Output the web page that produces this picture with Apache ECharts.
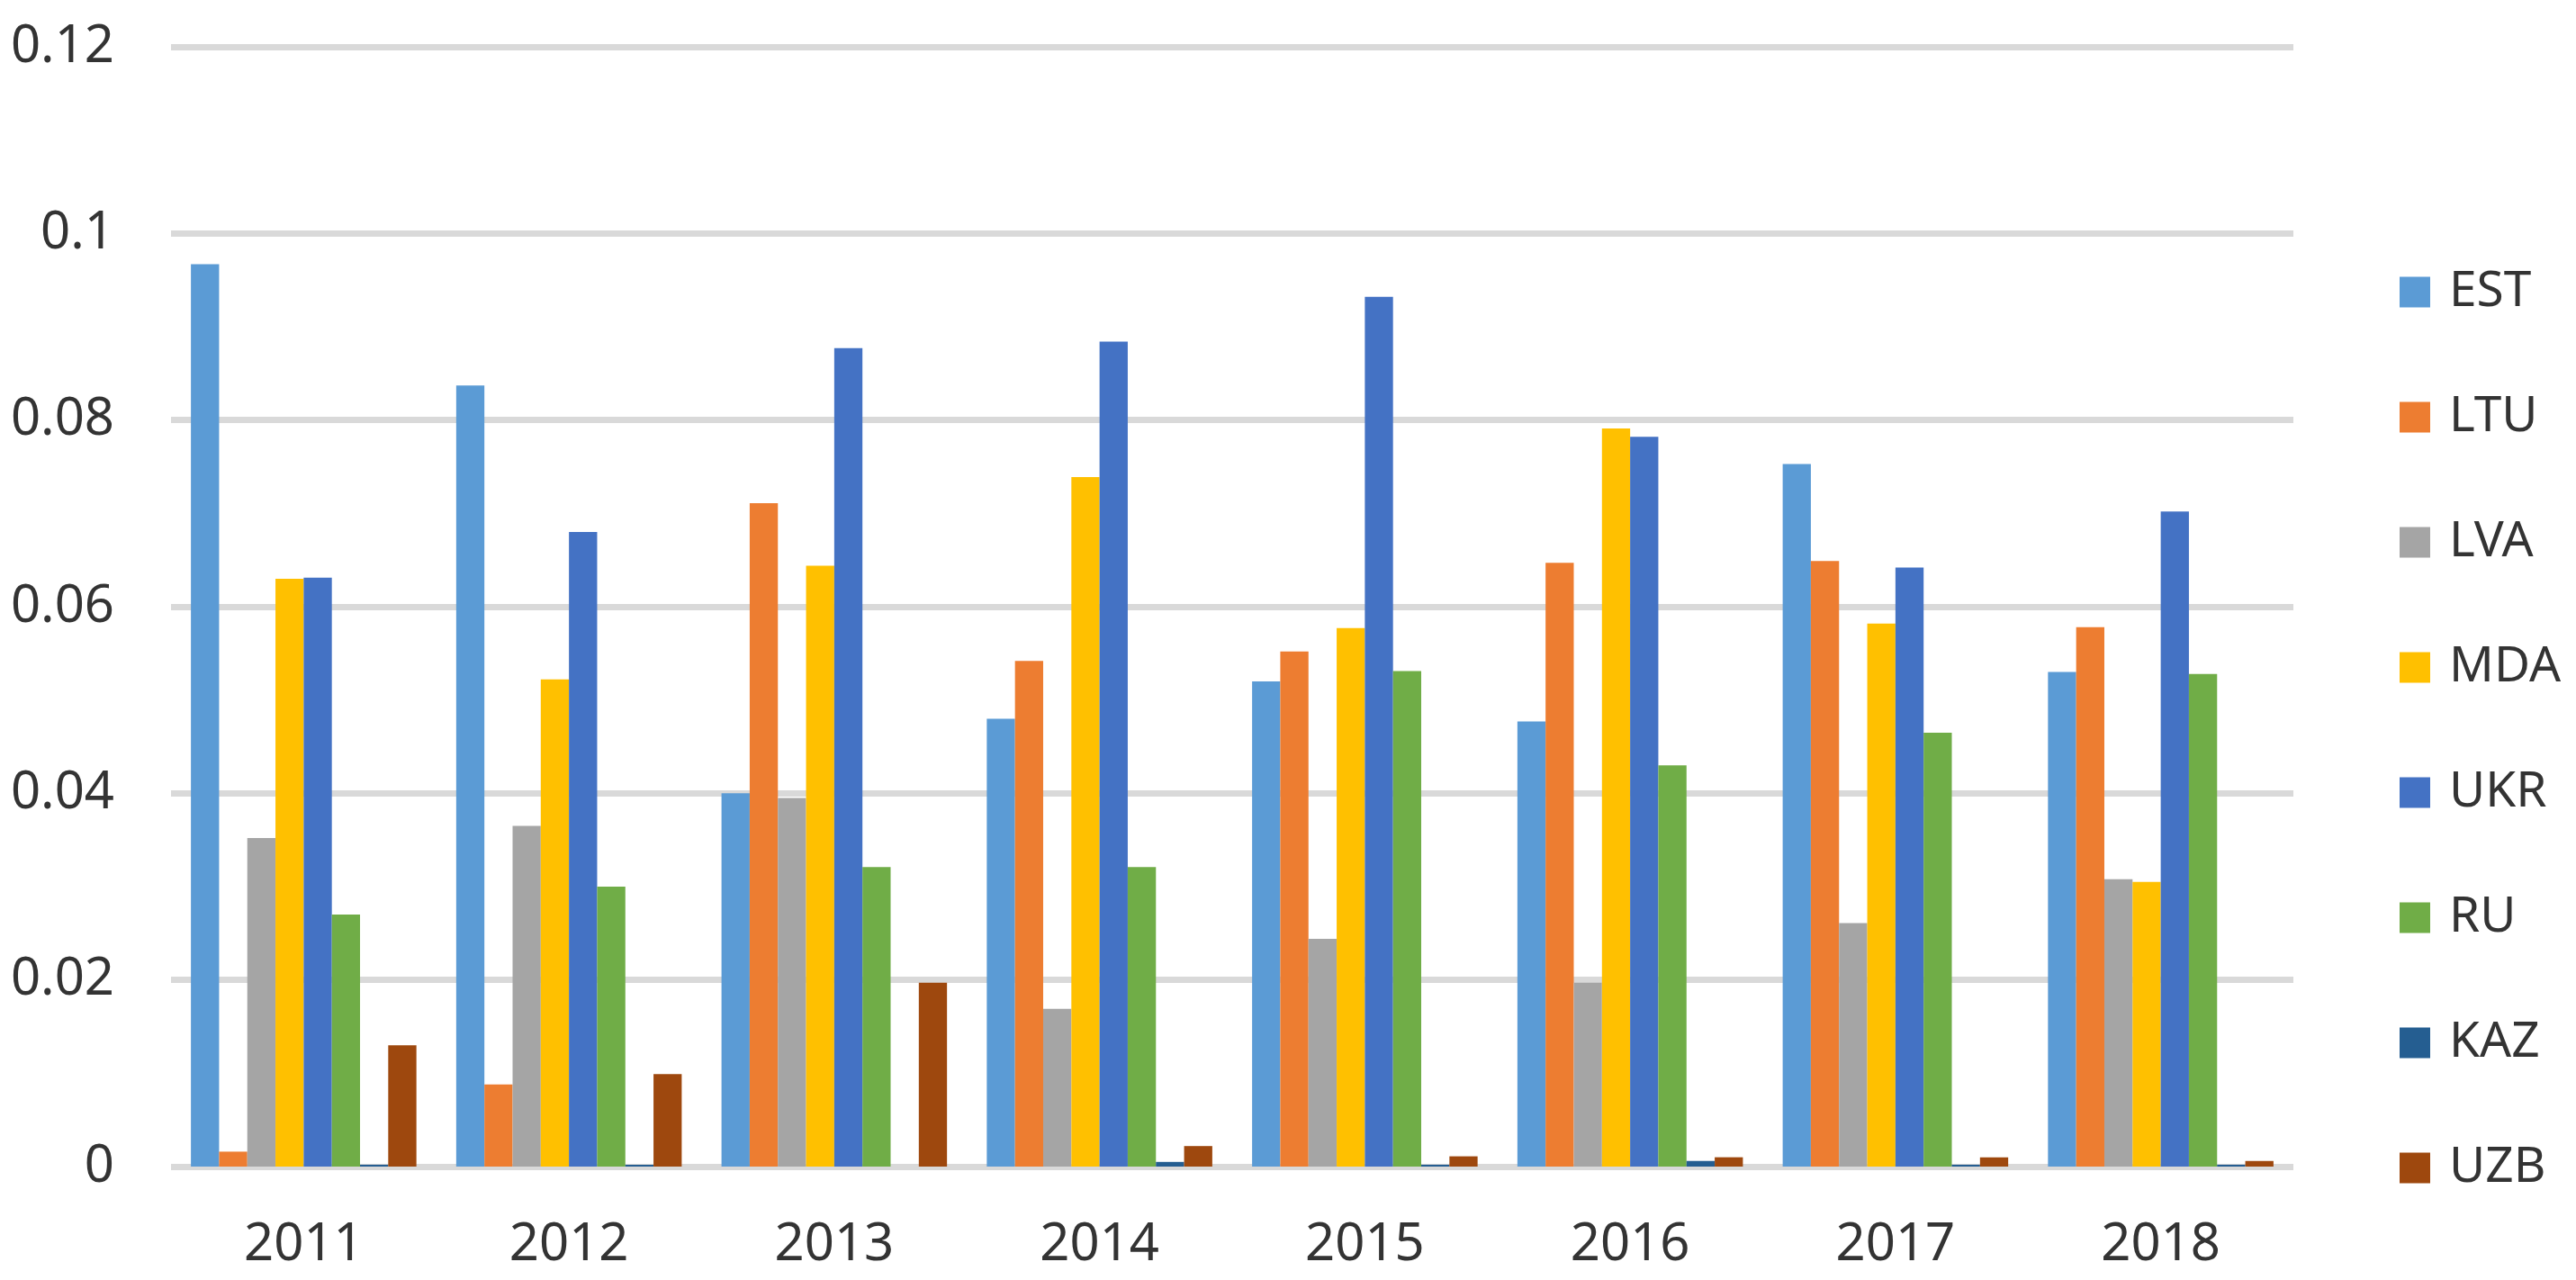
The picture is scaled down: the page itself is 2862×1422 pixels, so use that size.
<!DOCTYPE html>
<html>
<head>
<meta charset="utf-8">
<script src="https://cdn.jsdelivr.net/npm/echarts@6/dist/echarts.min.js"></script>
<style>
html,body{margin:0;padding:0;background:#fff;}
#chart{width:2862px;height:1422px;}
</style>
</head>
<body>
<div id="chart"></div>
<script>
const years = ['2011','2012','2013','2014','2015','2016','2017','2018'];
const seriesNames = ['EST','LTU','LVA','MDA','UKR','RU','KAZ','UZB'];
const EST = [0.0967, 0.0837, 0.0400, 0.0480, 0.0520, 0.0477, 0.0753, 0.0530];
const LTU = [0.0016, 0.0088, 0.0711, 0.0542, 0.0552, 0.0647, 0.0649, 0.0578];
const LVA = [0.0352, 0.0365, 0.0395, 0.0169, 0.0244, 0.0197, 0.0261, 0.0308];
const MDA = [0.0630, 0.0522, 0.0644, 0.0739, 0.0577, 0.0791, 0.0582, 0.0305];
const UKR = [0.0631, 0.0680, 0.0877, 0.0884, 0.0932, 0.0782, 0.0642, 0.0702];
const RU  = [0.0270, 0.0300, 0.0321, 0.0321, 0.0531, 0.0430, 0.0465, 0.0528];
const KAZ = [0.0002, 0.0002, 0.0000, 0.0005, 0.0002, 0.0006, 0.0002, 0.0002];
const UZB = [0.0130, 0.0099, 0.0197, 0.0022, 0.0011, 0.0010, 0.0010, 0.0006];
const seriesData = [EST, LTU, LVA, MDA, UKR, RU, KAZ, UZB];
const colors = ['#5B9BD5','#ED7D31','#A5A5A5','#FFC000','#4472C4','#70AD47','#255E91','#9E480E'];

const chart = echarts.init(document.getElementById('chart'), null, {renderer:'canvas'});
const font = '"Noto Sans", "Open Sans", sans-serif';
chart.setOption({
  animation: false,
  backgroundColor: '#ffffff',
  color: colors,
  grid: {left: 190, right: 314, top: 52, bottom: 126, containLabel: false},
  legend: {
    orient: 'vertical',
    left: 2661,
    top: 292,
    itemWidth: 34,
    itemHeight: 34,
    itemGap: 84,
    icon: 'rect',
    textStyle: {fontSize: 55, color: '#333333', fontFamily: font, lineHeight: 34, padding: [0,0,0,16]},
    data: seriesNames
  },
  xAxis: {
    type: 'category',
    data: years,
    axisLine: {show: false},
    axisTick: {show: false},
    axisLabel: {fontSize: 58, color: '#333333', fontFamily: font, margin: 58}
  },
  yAxis: {
    type: 'value',
    min: 0,
    max: 0.12,
    interval: 0.02,
    axisLine: {show: false},
    axisTick: {show: false},
    splitLine: {lineStyle: {color: '#D9D9D9', width: 7}},
    axisLabel: {
      fontSize: 58, color: '#333333', fontFamily: font, margin: 63,
      formatter: v => String(+v.toFixed(2))
    }
  },
  series: seriesNames.map((n, i) => ({
    name: n,
    type: 'bar',
    data: seriesData[i],
    barGap: '0%',
    barCategoryGap: '15%',
    itemStyle: {color: colors[i]}
  }))
});
</script>
</body>
</html>
